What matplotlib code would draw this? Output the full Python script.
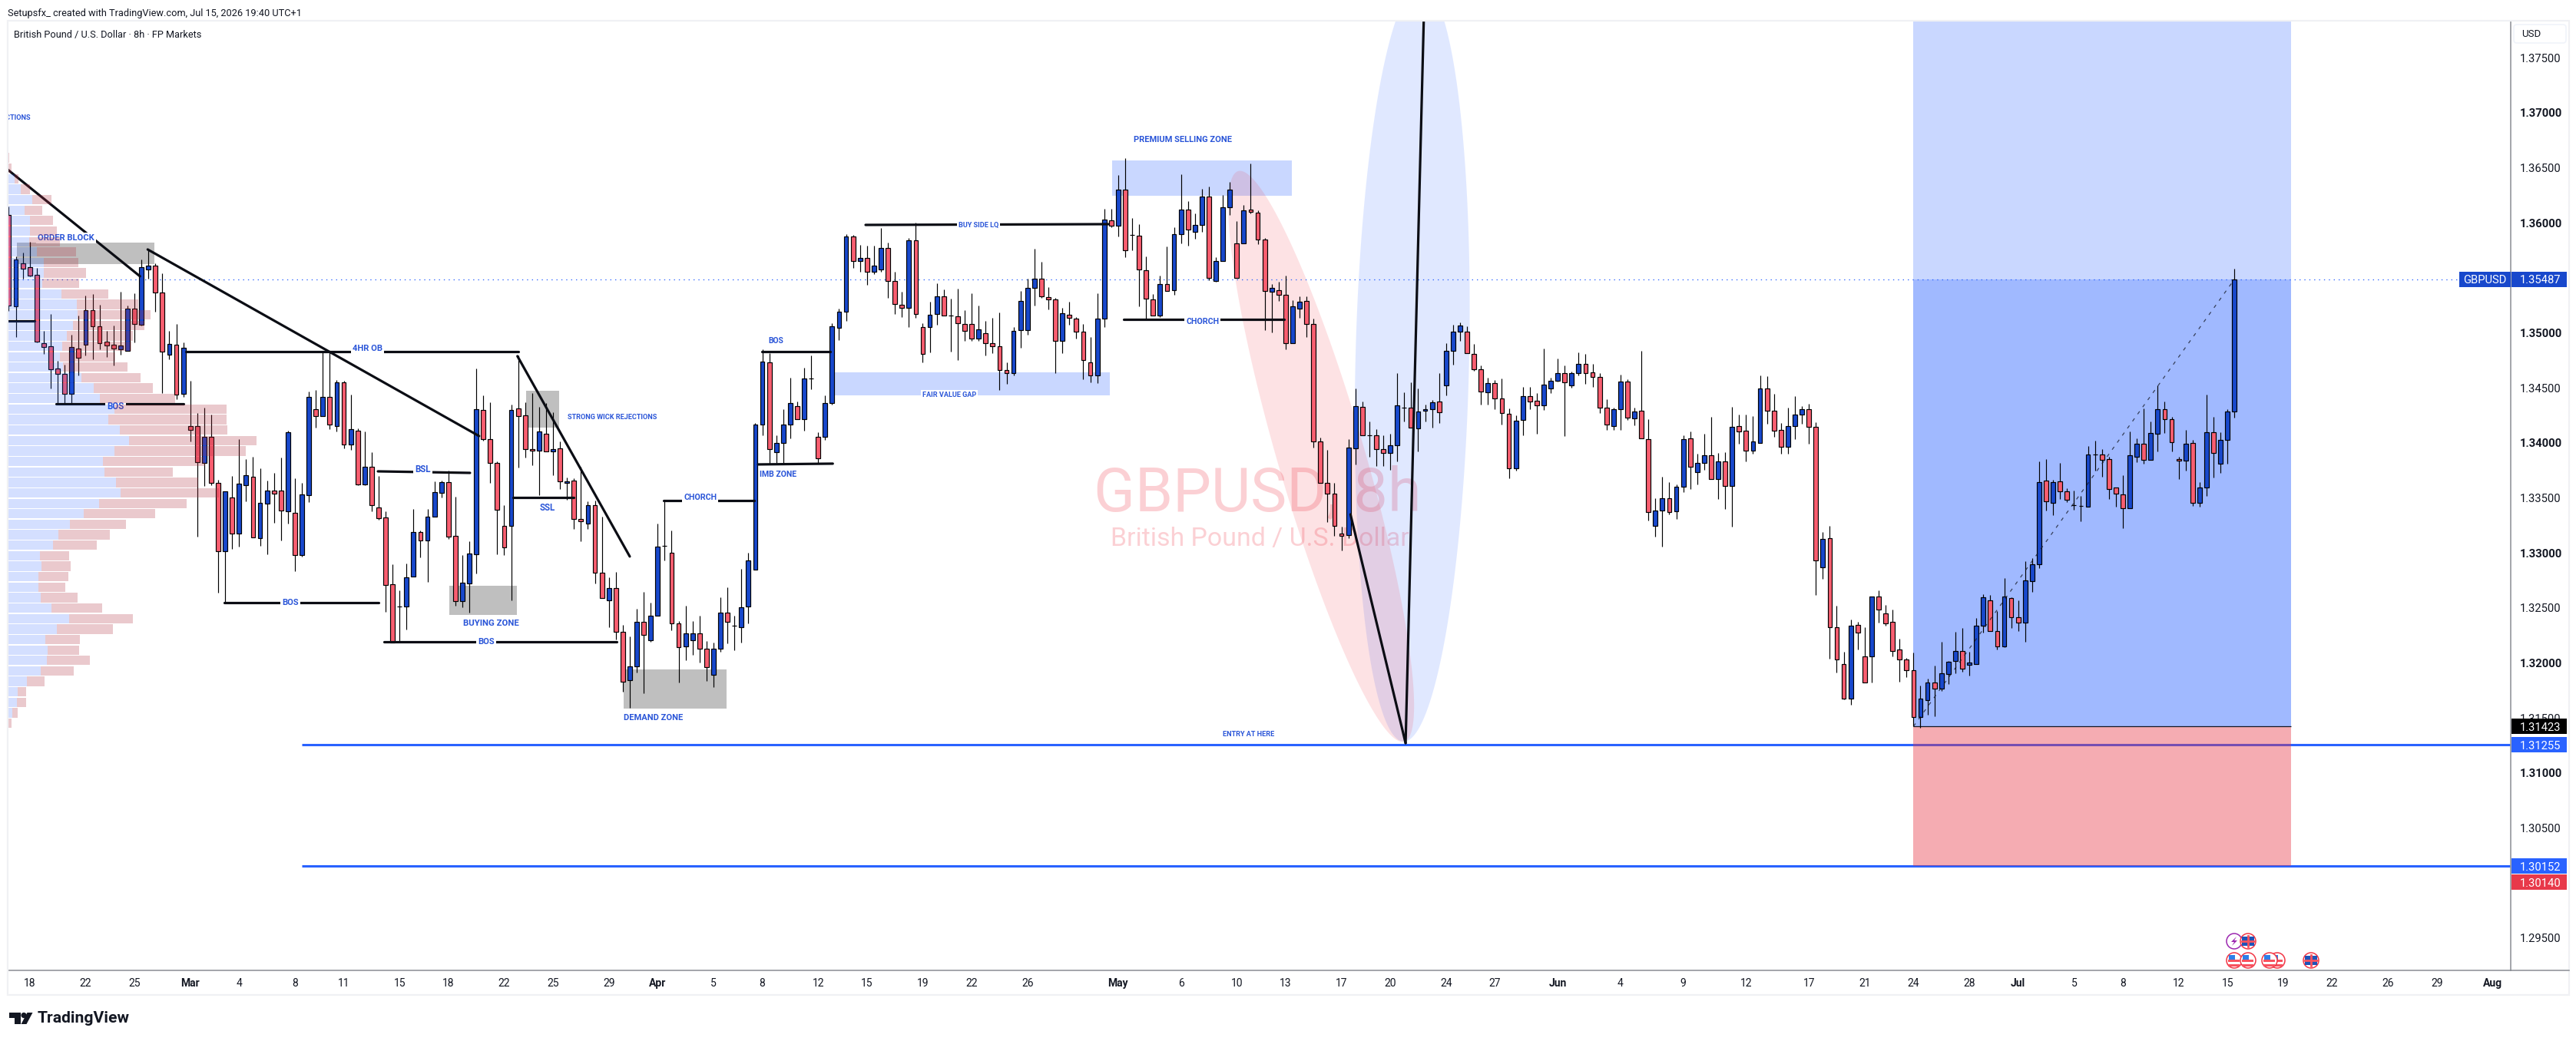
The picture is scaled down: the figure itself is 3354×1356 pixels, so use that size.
import numpy as np
import matplotlib
matplotlib.use("Agg")
import matplotlib.pyplot as plt
from matplotlib.patches import Rectangle, Circle, Polygon, FancyBboxPatch
from matplotlib.transforms import Affine2D

plt.rcParams['font.family'] = ['Roboto', 'DejaVu Sans']

opens = [
    1.36070,1.35244,1.35630,1.35596,1.35526,1.34903,1.34875,1.34674,1.34624,1.34449,
    1.34860,1.34890,1.35204,1.35062,1.34918,1.34890,1.34853,1.34833,1.35217,1.35077,
    1.35578,1.35608,1.35364,1.34803,1.34890,1.34449,1.34150,1.34150,1.33821,1.34053,
    1.33634,1.33014,1.33507,1.33178,1.33612,1.33689,1.33136,1.33445,1.33565,1.33565,
    1.33380,1.33363,1.32977,1.33527,1.34305,1.34245,1.34417,1.34155,1.34549,1.33988,
    1.34108,1.33624,1.33786,1.33415,1.33320,1.32712,1.32510,1.32511,1.32783,1.33188,
    1.33111,1.33327,1.33544,1.33641,1.33153,1.32560,1.32720,1.32985,1.34297,1.34032,
    1.33816,1.33243,1.33243,1.34311,1.34248,1.33941,1.33927,1.34081,1.33920,1.33948,
    1.33634,1.33655,1.33306,1.33264,1.33432,1.32818,1.32567,1.32678,1.32281,1.31841,
    1.31967,1.32371,1.32204,1.32427,1.33062,1.32999,1.32357,1.32148,1.32204,1.32267,
    1.32127,1.31890,1.32127,1.32455,1.32336,1.32327,1.32511,1.32846,1.34165,1.34730,
    1.33913,1.33997,1.34165,1.34332,1.34213,1.34588,1.34053,1.34053,1.34360,1.35048,
    1.35190,1.35874,1.35651,1.35679,1.35553,1.35574,1.35769,1.35469,1.35253,1.35225,
    1.35839,1.35051,1.35051,1.35169,1.35330,1.35155,1.35148,1.35079,1.35079,1.34946,
    1.34995,1.34904,1.34876,1.34660,1.34632,1.35023,1.35023,1.35407,1.35490,1.35323,
    1.35302,1.34925,1.35162,1.35127,1.35009,1.34730,1.34611,1.35127,1.36021,1.35972,
    1.36300,1.35888,1.35881,1.35567,1.35302,1.35155,1.35441,1.35386,1.35895,1.36118,
    1.35916,1.35979,1.36237,1.35469,1.35651,1.36139,1.35811,1.35811,1.36118,1.36090,
    1.35846,1.35372,1.35386,1.35344,1.34904,1.35218,1.35288,1.35079,1.34011,1.33634,
    1.33536,1.33174,1.33160,1.33948,1.34325,1.34071,1.34067,1.33941,1.33906,1.33976,
    1.34323,1.34318,1.34130,1.34290,1.34304,1.34374,1.34520,1.34834,1.35009,1.35009,
    1.34806,1.34667,1.34458,1.34541,1.34402,1.34262,1.33767,1.34209,1.34426,1.34385,
    1.34342,1.34496,1.34566,1.34636,1.34525,1.34636,1.34721,1.34643,1.34602,1.34322,
    1.34153,1.34308,1.34559,1.34223,1.34293,1.34035,1.33248,1.33388,1.33494,1.33376,
    1.33600,1.34040,1.33731,1.33817,1.33888,1.33670,1.33830,1.33607,1.34153,1.34110,
    1.33929,1.33999,1.34496,1.34293,1.34117,1.33965,1.34153,1.34257,1.34308,1.34146,
    1.32871,1.33136,1.32323,1.31987,1.31678,1.32344,1.32057,1.32057,1.32603,1.32448,
    1.32373,1.32119,1.32028,1.31931,1.31507,1.31661,1.31820,1.31763,1.31897,1.32014,
    1.32105,1.31985,1.31988,1.32336,1.32566,1.32287,1.32153,1.32586,1.32413,1.32364,
    1.32740,1.32894,1.33654,1.33452,1.33648,1.33557,1.33432,1.33429,1.33423,1.33893,
    1.33893,1.33851,1.33591,1.33529,1.33407,1.33876,1.33990,1.33842,1.34081,1.34304,
    1.34212,1.33851,1.33836,1.33999,1.33458,1.33594,1.34096,1.33814,1.34024,1.34284]

closes = [
    1.35250,1.35670,1.35586,1.35523,1.34923,1.34873,1.34671,1.34624,1.34449,1.34868,
    1.34776,1.35204,1.35062,1.34903,1.34888,1.34860,1.34883,1.35217,1.35082,1.35596,
    1.35608,1.35364,1.34828,1.34898,1.34442,1.34863,1.34120,1.33826,1.34053,1.33634,
    1.33014,1.33557,1.33178,1.33627,1.33704,1.33143,1.33452,1.33565,1.33535,1.33388,
    1.34095,1.32977,1.33530,1.34417,1.34245,1.34417,1.34163,1.34549,1.33988,1.34123,
    1.33624,1.33781,1.33433,1.33318,1.32710,1.32182,1.32510,1.32776,1.33188,1.33111,
    1.33327,1.33551,1.33641,1.33146,1.32560,1.32727,1.32992,1.34304,1.34032,1.33816,
    1.33390,1.33048,1.34297,1.34241,1.33941,1.33927,1.34102,1.33920,1.33941,1.33648,
    1.33653,1.33306,1.33285,1.33432,1.32818,1.32588,1.32678,1.32281,1.31832,1.31967,
    1.32371,1.32253,1.32427,1.33055,1.33062,1.32357,1.32141,1.32267,1.32267,1.32127,
    1.31960,1.32127,1.32455,1.32371,1.32336,1.32504,1.32930,1.34165,1.34737,1.33941,
    1.33997,1.34165,1.34360,1.34213,1.34583,1.34588,1.33862,1.34360,1.35058,1.35190,
    1.35874,1.35651,1.35679,1.35553,1.35609,1.35769,1.35469,1.35260,1.35225,1.35839,
    1.35174,1.34806,1.35162,1.35330,1.35155,1.35155,1.35086,1.35016,1.34946,1.35030,
    1.34904,1.34876,1.34660,1.34632,1.35016,1.35288,1.35407,1.35490,1.35330,1.35302,
    1.34925,1.35176,1.35134,1.35009,1.34751,1.34611,1.35127,1.36028,1.35972,1.36300,
    1.35748,1.35888,1.35574,1.35309,1.35155,1.35441,1.35379,1.35895,1.36118,1.35937,
    1.35979,1.36237,1.35497,1.35651,1.36139,1.36300,1.35497,1.36111,1.36097,1.35846,
    1.35379,1.35407,1.35344,1.34904,1.35239,1.35281,1.35079,1.34011,1.33634,1.33536,
    1.33243,1.33153,1.33955,1.34332,1.34067,1.34071,1.33941,1.33906,1.33976,1.34339,
    1.34323,1.34137,1.34283,1.34304,1.34367,1.34276,1.34834,1.35009,1.35065,1.34813,
    1.34667,1.34464,1.34541,1.34402,1.34269,1.33767,1.34201,1.34426,1.34378,1.34342,
    1.34532,1.34566,1.34636,1.34547,1.34636,1.34721,1.34636,1.34600,1.34322,1.34168,
    1.34308,1.34559,1.34230,1.34286,1.34040,1.33368,1.33388,1.33494,1.33368,1.33600,
    1.34035,1.33781,1.33817,1.33888,1.33670,1.33830,1.33607,1.34146,1.34105,1.33929,
    1.34013,1.34496,1.34293,1.34110,1.33965,1.34153,1.34257,1.34308,1.34146,1.32934,
    1.33129,1.32323,1.32028,1.31678,1.32337,1.32274,1.31825,1.32603,1.32484,1.32359,
    1.32111,1.32028,1.31931,1.31507,1.31675,1.31820,1.31763,1.31903,1.32008,1.32105,
    1.31945,1.32002,1.32336,1.32595,1.32287,1.32153,1.32600,1.32413,1.32364,1.32749,
    1.32894,1.33640,1.33472,1.33646,1.33557,1.33486,1.33432,1.33429,1.33893,1.33893,
    1.33848,1.33583,1.33535,1.33409,1.33885,1.33990,1.33842,1.34087,1.34304,1.34215,
    1.34004,1.33836,1.33990,1.33458,1.33594,1.34096,1.33905,1.34024,1.34284,1.35487]

highs = [
    1.36149,1.35695,1.35728,1.35827,1.35588,1.35015,1.35172,1.34746,1.34711,1.34983,
    1.35155,1.35339,1.35354,1.35254,1.35017,1.35067,1.35374,1.35247,1.35359,1.35665,
    1.35753,1.35633,1.35541,1.35017,1.35080,1.34913,1.34564,1.34272,1.34320,1.34257,
    1.33664,1.33557,1.33699,1.34033,1.33854,1.33874,1.33769,1.33657,1.33727,1.33866,
    1.34110,1.33679,1.33637,1.34464,1.34482,1.34823,1.34823,1.34574,1.34566,1.34439,
    1.34130,1.34103,1.33916,1.33699,1.33378,1.32897,1.32660,1.32904,1.33397,1.33204,
    1.33397,1.33648,1.33655,1.33751,1.33511,1.32981,1.33106,1.34676,1.34432,1.34369,
    1.33830,1.33434,1.34346,1.34793,1.34369,1.34453,1.34327,1.34360,1.34279,1.34013,
    1.33685,1.33678,1.33783,1.33467,1.33474,1.33330,1.32778,1.32827,1.32343,1.32239,
    1.32490,1.32643,1.32546,1.33264,1.33474,1.33202,1.32378,1.32520,1.32381,1.32427,
    1.32197,1.32183,1.32595,1.32685,1.32427,1.32853,1.33002,1.34181,1.34851,1.34816,
    1.34069,1.34304,1.34593,1.34374,1.34681,1.34792,1.34095,1.34430,1.35088,1.35220,
    1.35895,1.35888,1.35797,1.35790,1.35790,1.35951,1.35818,1.35553,1.35372,1.35860,
    1.36000,1.35086,1.35283,1.35451,1.35395,1.35309,1.35400,1.35204,1.35360,1.35246,
    1.35106,1.35134,1.35183,1.34730,1.35051,1.35379,1.35490,1.35762,1.35644,1.35414,
    1.35316,1.35227,1.35283,1.35141,1.35079,1.34960,1.35360,1.36128,1.36128,1.36432,
    1.36588,1.36044,1.35986,1.35693,1.35351,1.35518,1.35783,1.35958,1.36439,1.36197,
    1.36083,1.36307,1.36328,1.35688,1.36251,1.36369,1.36014,1.36160,1.36537,1.36111,
    1.35860,1.35441,1.35462,1.35518,1.35295,1.35330,1.35330,1.35127,1.34046,1.33934,
    1.33634,1.33239,1.34032,1.34495,1.34374,1.34192,1.34123,1.34067,1.34081,1.34634,
    1.34458,1.34548,1.34495,1.34346,1.34388,1.34634,1.34904,1.35072,1.35092,1.35058,
    1.34897,1.34702,1.34590,1.34569,1.34583,1.34311,1.34247,1.34506,1.34506,1.34450,
    1.34856,1.34595,1.34767,1.34701,1.34646,1.34822,1.34808,1.34716,1.34636,1.34399,
    1.34317,1.34622,1.34576,1.34317,1.34837,1.34218,1.33496,1.33692,1.33644,1.33622,
    1.34071,1.34107,1.33902,1.34086,1.34233,1.33909,1.33916,1.34327,1.34259,1.34255,
    1.34240,1.34612,1.34605,1.34443,1.34177,1.34317,1.34426,1.34337,1.34358,1.34185,
    1.33187,1.33243,1.32521,1.32100,1.32395,1.32373,1.32325,1.32603,1.32661,1.32528,
    1.32487,1.32219,1.32042,1.32096,1.31794,1.31854,1.31977,1.32193,1.32019,1.32284,
    1.32318,1.32102,1.32410,1.32626,1.32615,1.32472,1.32768,1.32598,1.32569,1.32922,
    1.32951,1.33834,1.33851,1.33663,1.33817,1.33589,1.33566,1.33517,1.33970,1.34022,
    1.33942,1.33871,1.33591,1.33705,1.34104,1.34041,1.34315,1.34195,1.34520,1.34378,
    1.34238,1.33871,1.34118,1.34027,1.33640,1.34437,1.34238,1.34096,1.34306,1.35585]

lows = [
    1.35200,1.34965,1.35491,1.35513,1.34915,1.34811,1.34497,1.34357,1.34357,1.34362,
    1.34616,1.34796,1.34761,1.34850,1.34783,1.34706,1.34801,1.34833,1.34915,1.35070,
    1.35491,1.35194,1.34454,1.34763,1.34399,1.34419,1.34016,1.33151,1.33605,1.33614,
    1.32635,1.32545,1.33039,1.33056,1.33470,1.33143,1.33064,1.32984,1.33276,1.33116,
    1.33263,1.32837,1.32969,1.33465,1.34138,1.34245,1.34125,1.34105,1.33951,1.33938,
    1.33614,1.33614,1.33380,1.33303,1.32461,1.32182,1.32182,1.32306,1.32783,1.32962,
    1.32736,1.33327,1.33504,1.33130,1.32523,1.32506,1.32460,1.32813,1.34023,1.33637,
    1.32990,1.32983,1.32571,1.33776,1.33867,1.33797,1.33525,1.33920,1.33706,1.33581,
    1.33483,1.33218,1.33106,1.33218,1.32723,1.32588,1.32327,1.32211,1.31741,1.31594,
    1.31915,1.31727,1.32194,1.32427,1.32934,1.32299,1.31825,1.32025,1.32076,1.32006,
    1.31839,1.31783,1.32099,1.32176,1.32118,1.32187,1.32362,1.32846,1.34072,1.33809,
    1.33820,1.33809,1.34044,1.34213,1.34113,1.34490,1.33811,1.34025,1.34351,1.34937,
    1.35111,1.35593,1.35558,1.35439,1.35537,1.35553,1.35320,1.35174,1.35146,1.35055,
    1.35139,1.34734,1.34825,1.35076,1.35155,1.34832,1.34755,1.34930,1.34930,1.34930,
    1.34797,1.34816,1.34483,1.34539,1.34611,1.34867,1.34983,1.35248,1.35316,1.35216,
    1.34637,1.34816,1.35076,1.34948,1.34581,1.34553,1.34546,1.35055,1.35962,1.35879,
    1.35688,1.35753,1.35241,1.35120,1.35155,1.35146,1.35379,1.35348,1.35816,1.35795,
    1.35858,1.35916,1.35476,1.35462,1.35651,1.36069,1.35497,1.35811,1.36083,1.35804,
    1.35027,1.35006,1.35290,1.34853,1.34904,1.35139,1.34965,1.33955,1.33634,1.33281,
    1.33157,1.33025,1.33136,1.33806,1.34067,1.33876,1.33788,1.33788,1.33757,1.33834,
    1.34197,1.34137,1.33925,1.34197,1.34141,1.34183,1.34434,1.34711,1.34930,1.34813,
    1.34653,1.34351,1.34351,1.34309,1.34169,1.33681,1.33750,1.34071,1.34303,1.34086,
    1.34296,1.34450,1.34556,1.34064,1.34498,1.34612,1.34535,1.34506,1.34274,1.34115,
    1.34115,1.34115,1.34206,1.34158,1.34040,1.33296,1.33148,1.33057,1.33351,1.33310,
    1.33554,1.33583,1.33624,1.33757,1.33670,1.33491,1.33400,1.33240,1.33994,1.33834,
    1.33902,1.33999,1.34172,1.34057,1.33902,1.33902,1.34032,1.34172,1.33994,1.32615,
    1.32767,1.32040,1.31914,1.31666,1.31617,1.32125,1.31825,1.31823,1.32366,1.32335,
    1.32062,1.31826,1.31871,1.31424,1.31407,1.31527,1.31515,1.31743,1.31806,1.31905,
    1.31920,1.31886,1.31988,1.32276,1.32287,1.32125,1.32142,1.32318,1.32290,1.32193,
    1.32646,1.32865,1.33386,1.33344,1.33492,1.33463,1.33395,1.33287,1.33418,1.33748,
    1.33694,1.33492,1.33423,1.33224,1.33407,1.33822,1.33814,1.33842,1.33919,1.34090,
    1.33925,1.33668,1.33745,1.33429,1.33418,1.33520,1.33686,1.33728,1.33814,1.34227]

# volume profile, one row per price bin from the top down
profile_top = 1.36639
profile_step = 0.000952
profile_up = [0,0,8.6,17,32,22.5,29.5,29.5,28,37.7,47,47,45,70,90,91,85,77,71,68,72,96,112,120,139,131,146,158,
              139,124,126,141,147,119,99,81,66,59,42,44,40,40,43,57,80,64,49,52,51,43,25,13,12,6,1]
profile_total = [1.6,5,14,29,57,45.5,59.5,64,68,89,92,102,93,131,170,186,178,163,161,140,156,173,189,218,285,285,286,324,
                 310,257,215,248,275,233,192,154,133,116,80,82,79,75,91,123,163,137,94,93,107,86,48,24,24,13,5]

date_ticks = [3,11,18,26,33,41,48,56,63,71,78,86,93,101,108,116,123,131,138,146,159,168,176,183,191,198,206,213,222,
              231,240,249,258,266,273,281,288,296,303,311,318,326,333,341,348,356]
date_labels = ['18','22','25','Mar','4','8','11','15','18','22','25','29','Apr','5','8','12','15','19','22','26','May',
               '6','10','13','17','20','24','27','Jun','4','9','12','17','21','24','28','Jul','5','8','12','15','19',
               '22','26','29','Aug']
price_ticks = [1.375,1.37,1.365,1.36,1.355,1.35,1.345,1.34,1.335,1.33,1.325,1.32,1.315,1.31,1.305,1.295]

last_price = 1.35487
entry_price = 1.31423
line_hi = 1.31255
line_lo = 1.30152

# x0, x1, p0, p1 in bars and price
grey_zones = [(1.16,20.9,1.35821,1.35625), (63.1,72.8,1.32701,1.32436), (74.1,78.9,1.34474,1.34139), (88.1,102.9,1.31941,1.31585)]
blue_zones = [(158.1,183.9,1.36567,1.36246), (118.4,157.8,1.34641,1.34432)]
level_lines = [(-0.17,3.7,1.35109,1.35109), (6.8,25.0,1.34355,1.34355), (25.4,73.0,1.34830,1.34830), (52.9,66.1,1.33741,1.33727),
               (30.9,53.0,1.32548,1.32548), (53.8,87.1,1.32192,1.32192), (72.3,81.0,1.33504,1.33504), (93.8,106.8,1.33476,1.33476),
               (107.9,117.7,1.34830,1.34830), (107.4,118.1,1.33804,1.33811), (122.8,157.6,1.35981,1.35988), (159.8,182.8,1.35123,1.35123),
               (-0.17,18.8,1.36484,1.35514), (19.9,67.4,1.35758,1.34062), (72.9,89.0,1.34788,1.32967),
               (192.3,200.2,1.33350,1.31271), (200.2,202.8,1.31271,1.37837)]
white_labels = [('ORDER BLOCK',8.2,1.35863,8.1), ('4HR OB',51.4,1.34858,8.0), ('BSL',59.3,1.33755,8.3), ('BOS',15.3,1.34327,8.3), ('BOS',40.3,1.32548,8.0),
                ('BOS',68.4,1.32192,8.0), ('CHORCH',99.1,1.33504,7.7), ('BUY SIDE LQ',139,1.35981,6.6), ('CHORCH',171.1,1.35102,7.7), ('FAIR VALUE GAP',134.8,1.34432,6.6)]
plain_labels = [('SSL',77.2,1.33406,8.3), ('BOS',110.0,1.34927,7.4), ('IMB ZONE',110.2,1.33713,7.6), ('STRONG WICK REJECTIONS',86.5,1.34230,6.6),
                ('BUYING ZONE',69.1,1.32359,8.2), ('DEMAND ZONE',92.4,1.31501,8.0), ('PREMIUM SELLING ZONE',168.3,1.36756,8.0), ('ENTRY AT HERE',177.7,1.31354,6.6)]

W, H = 3355, 1356
AX_L, AX_R, AX_T, AX_B = 10, 3269, 27, 1264
BAR_PX = 9.084
PRICE_PX = 14330

BLUE = '#1848cc'
RED = '#f85e70'
LABEL = '#2a55d8'
TEXT = '#131722'
ACCENT = '#2962ff'

fig = plt.figure(figsize=(W / 100, H / 100), dpi=100, facecolor='white')
ax = fig.add_axes([AX_L / W, 1 - AX_B / H, (AX_R - AX_L) / W, (AX_B - AX_T) / H])
px = Affine2D().scale(1 / W, -1 / H).translate(0, 1) + fig.transFigure

opens = np.array(opens)
closes = np.array(closes)
highs = np.array(highs)
lows = np.array(lows)
idx = np.arange(len(opens))
xl, xr = -0.165, 358.6

ax.text(179.0, 1.33540, 'GBPUSD, 8h', fontsize=57, color='#f23645', alpha=0.23, ha='center', va='center', zorder=0.5)
ax.text(179.3, 1.33130, 'British Pound / U.S. Dollar', fontsize=24.4, color='#f23645', alpha=0.23, ha='center', va='center', zorder=0.5)


def ellipse(i0, p0, i1, p1, half_px, color):
    t = np.linspace(0, 2 * np.pi, 240)
    a = np.array([i0 * BAR_PX, p0 * PRICE_PX])
    b = np.array([i1 * BAR_PX, p1 * PRICE_PX])
    c = (a + b) / 2
    u = (b - a) / 2
    n = np.array([-u[1], u[0]]) / np.hypot(*u) * half_px
    xs = c[0] + u[0] * np.cos(t) + n[0] * np.sin(t)
    ys = c[1] + u[1] * np.cos(t) + n[1] * np.sin(t)
    ax.fill(xs / BAR_PX, ys / PRICE_PX, color=color, alpha=0.14, lw=0, zorder=1.3)


ellipse(199.9, 1.31285, 202.4, 1.38165, 74, ACCENT)
ellipse(176.2, 1.36470, 200.0, 1.31285, 56.6, '#f23645')

for x0, x1, p0, p1 in grey_zones:
    ax.add_patch(Rectangle((x0, p1), x1 - x0, p0 - p1, color='#000000', alpha=0.25, lw=0, zorder=1))
for x0, x1, p0, p1 in blue_zones:
    ax.add_patch(Rectangle((x0, p1), x1 - x0, p0 - p1, color=ACCENT, alpha=0.25, lw=0, zorder=1))

# entry / stop levels, the position box sits over them
ax.hlines([line_hi, line_lo], 42, xr, color=ACCENT, lw=2.2, zorder=1.2)
box_l, box_r = 272.9, 327.1
ax.add_patch(Rectangle((box_l, entry_price), box_r - box_l, 1.379 - entry_price, color=ACCENT, alpha=0.25, lw=0, zorder=1.5))
ax.add_patch(Rectangle((box_l, entry_price), box_r - box_l, last_price - entry_price, color=ACCENT, alpha=0.25, lw=0, zorder=1.5))
ax.add_patch(Rectangle((box_l, line_lo), box_r - box_l, entry_price - line_lo, color='#e8303f', alpha=0.4, lw=0, zorder=1.5))
ax.hlines(entry_price, box_l, box_r, color='#131722', lw=0.9, zorder=1.6)

ax.hlines(last_price, xl, 351, color=ACCENT, lw=0.9, linestyle=(0, (1.1, 4.0)), zorder=1.7)

# candles
ax.vlines(idx, lows, highs, color='black', lw=0.85, zorder=3)
bottoms = np.minimum(opens, closes)
colors = [BLUE if c > o else RED for o, c in zip(opens, closes)]
ax.bar(idx, np.abs(closes - opens), bottom=bottoms, width=0.64, color=colors, edgecolor='black', linewidth=0.85, zorder=3.1)

ax.plot([273, 319], [entry_price, last_price], color=TEXT, lw=0.9, alpha=0.75, linestyle=(0, (3.6, 5.5)), zorder=3.2)

for x0, x1, p0, p1 in level_lines:
    ax.plot([x0, x1], [p0, p1], color='#0b0d14', lw=2.3, solid_capstyle='round', zorder=5)

for s, x, p, size in white_labels:
    ax.text(x, p, s, fontsize=size, color=LABEL, weight='bold', ha='center', va='center', zorder=6,
            bbox=dict(facecolor='white', edgecolor='none', pad=1.5))
for s, x, p, size in plain_labels:
    ax.text(x, p, s, fontsize=size, color=LABEL, weight='bold', ha='center', va='center', zorder=6)
ax.text(3.1, 1.36951, 'REJECTIONS', fontsize=6.6, color=LABEL, weight='bold', ha='right', va='center', clip_on=True, zorder=6)

# volume profile goes over the candles
n_rows = len(profile_up)
row_y = profile_top - profile_step * (np.arange(n_rows) + 0.5)
up = np.array(profile_up) / BAR_PX
total = np.array(profile_total) / BAR_PX
ax.barh(row_y, up, left=xl, height=profile_step * 0.9, color=ACCENT, alpha=0.2, lw=0, zorder=7)
ax.barh(row_y, total - up, left=xl + up, height=profile_step * 0.9, color='#b02f3f', alpha=0.26, lw=0, zorder=7)

ax.set_xlim(xl, xr)
ax.set_ylim(1.29205, 1.37837)
for side in ['top', 'left']:
    ax.spines[side].set_visible(False)
for side in ['right', 'bottom']:
    ax.spines[side].set_color('#8a8d93')
    ax.spines[side].set_linewidth(1.1)

ax.yaxis.tick_right()
ax.set_yticks(price_ticks, ['%.5f' % p for p in price_ticks])
ax.tick_params(axis='y', length=0, pad=8.5, labelsize=10.6, labelcolor=TEXT)
for p, lab in zip(price_ticks, ax.get_yticklabels()):
    if round(p * 1000) % 10 == 0:
        lab.set_fontweight('bold')

ax.set_xticks(date_ticks, date_labels)
ax.tick_params(axis='x', length=0, pad=7, labelsize=10, labelcolor=TEXT)
for lab in ax.get_xticklabels():
    if lab.get_text() in ('Mar', 'Apr', 'May', 'Jun', 'Jul', 'Aug'):
        lab.set_fontweight('bold')

tag_tr = ax.get_yaxis_transform()
ax_w = AX_R - AX_L


def price_tag(price, text, color):
    ax.add_patch(Rectangle((1.0003, price - 0.0007), 72 / ax_w, 0.0014, transform=tag_tr, color=color, lw=0, clip_on=False, zorder=10))
    ax.text(1 + 12 / ax_w, price, text, transform=tag_tr, color='white', fontsize=10.6, ha='left', va='center_baseline', clip_on=False, zorder=11)


price_tag(last_price, '1.35487', BLUE)
price_tag(entry_price, '1.31423', 'black')
price_tag(line_hi, '1.31255', ACCENT)
price_tag(line_lo, '1.30152', ACCENT)
price_tag(1.30006, '1.30140', '#e8394a')
ax.add_patch(Rectangle((1 - 67 / ax_w, last_price - 0.0007), 67 / ax_w, 0.0014, transform=tag_tr, color=BLUE, lw=0, clip_on=False, zorder=10))
ax.text(1 - 62 / ax_w, last_price, 'GBPUSD', transform=tag_tr, color='white', fontsize=10.6, ha='left', va='center_baseline', clip_on=False, zorder=11)

# outer frame and header
fig.add_artist(Rectangle((10, 27), 3335, 1269, transform=px, fill=False, edgecolor='#f0f1f4', lw=1.6))
fig.add_artist(plt.Line2D([3269, 3345], [1264, 1264], transform=px, color='#8a8d93', lw=1.1))
fig.add_artist(FancyBboxPatch((3273, 32), 68, 24, boxstyle='round,pad=0,rounding_size=4', transform=px, fill=False, edgecolor='#f0f3fa', lw=1.2))
fig.text(3296 / W, 1 - 44 / H, 'USD', fontsize=9.5, color=TEXT, ha='center', va='center')
fig.text(10 / W, 1 - 17.5 / H, 'Setupsfx_ created with TradingView.com, Jul 15, 2026 19:40 UTC+1', fontsize=9.2, color=TEXT, ha='left', va='center')
fig.text(18 / W, 1 - 45 / H, 'British Pound / U.S. Dollar · 8h · FP Markets', fontsize=9.2, color=TEXT, ha='left', va='center')

# TradingView mark
for shape in ([(12, 1319), (27, 1319), (27, 1334), (19, 1334), (19, 1326), (12, 1326)],
              [(35.5, 1319), (42.5, 1319), (34.5, 1334), (27.5, 1334)]):
    fig.add_artist(Polygon(shape, transform=px, color='#131722', lw=0))
fig.add_artist(Circle((31, 1322.5), 3.6, transform=px, color='#131722', lw=0))
fig.text(49 / W, 1 - 1326 / H, 'TradingView', fontsize=15.2, weight='bold', color='#131722', ha='left', va='center')


# economic calendar badges
def badge(x, y, kind):
    edge = '#9c27b0' if kind == 'bolt' else '#f23645'
    fig.add_artist(Circle((x, y), 10, transform=px, facecolor='white', edgecolor=edge, lw=1.1))
    if kind == 'us':
        for dy, hh in ((-1, 3), (4.5, 3)):
            fig.add_artist(Rectangle((x - 7.5, y + dy), 15, hh, transform=px, color='#f7525f', lw=0))
        fig.add_artist(Rectangle((x - 7, y - 7), 8, 6, transform=px, color='#2e7ee8', lw=0))
    elif kind == 'uk':
        fig.add_artist(Rectangle((x - 8, y - 6), 16, 12, transform=px, color='#1e53b8', lw=0))
        fig.add_artist(plt.Line2D([x - 8, x + 8], [y, y], transform=px, color='#f7525f', lw=2))
        fig.add_artist(plt.Line2D([x, x], [y - 7, y + 7], transform=px, color='#f7525f', lw=2))
    else:
        fig.add_artist(Polygon([(x + 3, y - 6), (x - 4, y + 1), (x, y + 1), (x - 3, y + 6), (x + 4, y - 1), (x, y - 1)],
                               transform=px, color='#9c27b0', lw=0))


for x, y, kind in [(2909, 1226, 'bolt'), (2927, 1226, 'uk'), (2965, 1251, 'us'), (2909, 1251, 'us'), (2927, 1251, 'us'),
                   (2955, 1251, 'us'), (3009, 1251, 'uk')]:
    badge(x, y, kind)

fig.savefig('out.png', dpi=100)
